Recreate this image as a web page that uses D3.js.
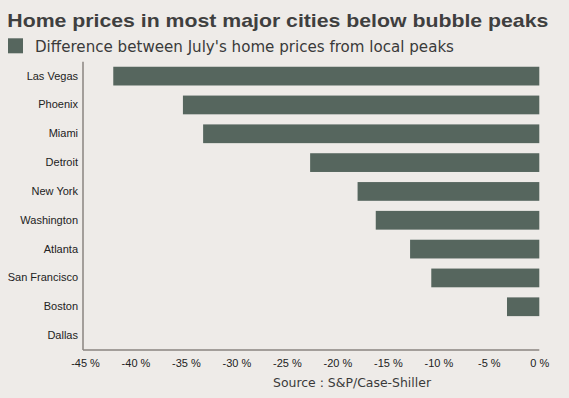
<!DOCTYPE html>
<html>
<head>
<meta charset="utf-8">
<script src="https://cdn.jsdelivr.net/npm/d3@7"></script>
<style>
html,body{margin:0;padding:0;background:#eeebe8;}
svg{display:block;}
</style>
</head>
<body>
<svg id="chart" width="569" height="398"></svg>
<script>
const cities = ["Las Vegas","Phoenix","Miami","Detroit","New York","Washington","Atlanta","San Francisco","Boston","Dallas"];
const diffFromPeak = [-42.2,-35.3,-33.3,-22.7,-18.0,-16.2,-12.8,-10.7,-3.2,0];
const xTicks = [-45,-40,-35,-30,-25,-20,-15,-10,-5,0];
const titleText = "Home prices in most major cities below bubble peaks";
const legendText = "Difference between July's home prices from local peaks";
const sourceText = "Source : S&P/Case-Shiller";

const W = 569, H = 398;
const barColor = "#56665e";
const svg = d3.select("#chart");
svg.append("rect").attr("width",W).attr("height",H).attr("fill","#eeebe8");

const plotLeft = 83, plotTop = 61.7, plotBottom = 350;
const x = d3.scaleLinear().domain([-45,0]).range([85,539.3]);
const y = d3.scaleBand().domain(cities).range([plotTop,plotBottom]).paddingInner(0.35).paddingOuter(0.175);

// title
svg.append("text").attr("x",7.3).attr("y",27.3)
  .attr("font-family","Liberation Sans, Arial, sans-serif").attr("font-weight","bold")
  .attr("font-size",19).attr("fill","#3f3f3f")
  .attr("textLength",541).attr("lengthAdjust","spacingAndGlyphs")
  .text(titleText);

// legend
svg.append("rect").attr("x",8).attr("y",38.3).attr("width",15).attr("height",15).attr("fill",barColor);
svg.append("text").attr("x",35).attr("y",52)
  .attr("font-family","DejaVu Sans, Verdana, sans-serif")
  .attr("font-size",15).attr("fill","#3a3a3a")
  .attr("textLength",419).attr("lengthAdjust","spacingAndGlyphs")
  .text(legendText);

// bars
svg.append("g").selectAll("rect").data(cities.map((c,i)=>({c,v:diffFromPeak[i]})).filter(d=>d.v<0))
  .join("rect")
  .attr("x",d=>x(d.v)).attr("y",d=>y(d.c))
  .attr("width",d=>x(0)-x(d.v)).attr("height",y.bandwidth())
  .attr("fill",barColor);

// axes
const yAxis = d3.axisLeft(y).tickSize(0).tickPadding(5);
const gy = svg.append("g").attr("transform",`translate(${plotLeft},0)`).call(yAxis);
gy.select(".domain").attr("stroke","#8a8580").attr("stroke-width",1.5).attr("d",`M0,${plotTop}V${plotBottom}`);
gy.selectAll("text").attr("font-family","Liberation Sans, Arial, sans-serif").attr("font-size",11).attr("fill","#222");

const xAxis = d3.axisBottom(x).tickValues(xTicks).tickSize(0).tickPadding(9).tickFormat(d=>d+" %");
const gx = svg.append("g").attr("transform",`translate(0,${plotBottom})`).call(xAxis);
gx.select(".domain").attr("stroke","#8a8580").attr("stroke-width",1.5).attr("d",`M${plotLeft},0H${x(0)}`);
gx.selectAll("text").attr("font-family","Liberation Sans, Arial, sans-serif").attr("font-size",11).attr("fill","#222");

// source
svg.append("text").attr("x",273).attr("y",387)
  .attr("font-family","DejaVu Sans, Verdana, sans-serif")
  .attr("font-size",11.5).attr("fill","#3a3a3a")
  .attr("textLength",158).attr("lengthAdjust","spacingAndGlyphs")
  .text(sourceText);
</script>
</body>
</html>
